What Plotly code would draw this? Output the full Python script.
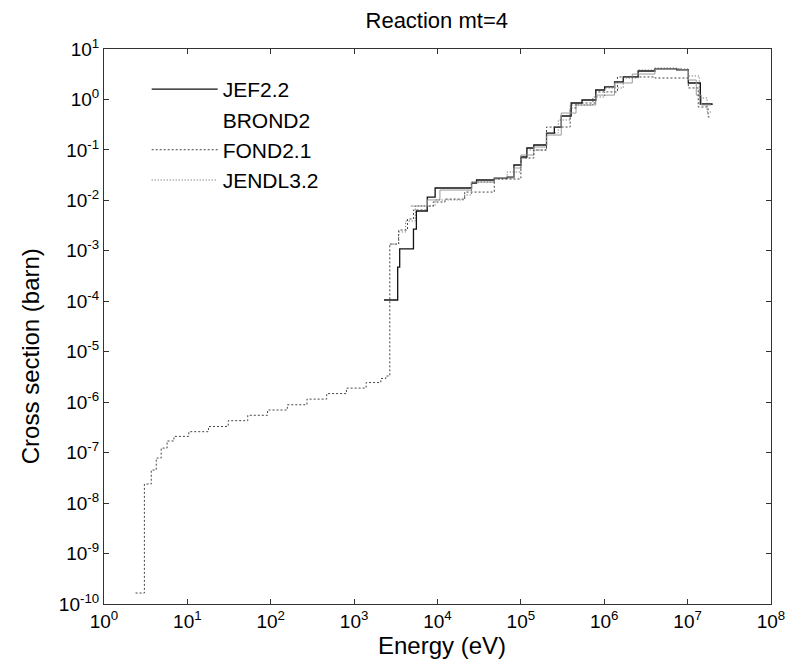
import plotly.graph_objects as go

# ---------------- data ----------------
jef_e = [2.28e3, 3.33e3, 3.52e3, 5.15e3, 5.58e3, 7.54e3, 9.37e3, 2.56e4, 2.94e4, 4.80e4,
         6.84e4, 8.26e4, 1.0e5, 1.18e5, 1.43e5, 2.03e5, 2.52e5, 3.05e5, 4.01e5, 5.41e5,
         7.91e5, 1.01e6, 1.33e6, 1.69e6, 2.55e6, 4.05e6, 7.38e6, 1.02e7, 1.42e7, 1.96e7]
jef_s = [1.06e-4, 4.77e-4, 1.09e-3, 2.70e-3, 6.15e-3, 1.16e-2, 1.76e-2, 2.21e-2, 2.53e-2, 2.77e-2,
         2.90e-2, 5.02e-2, 7.23e-2, 0.109, 0.125, 0.216, 0.284, 0.470, 0.851, 0.976,
         1.54, 1.77, 2.22, 2.79, 3.66, 4.02, 3.84, 2.12, 0.813, 0.776]

brond_e = [4.74e3, 7.54e3, 1.07e4, 2.56e4, 4.80e4, 8.26e4, 1.0e5, 1.43e5, 2.03e5, 3.05e5,
           4.59e5, 7.91e5, 1.33e6, 2.17e6, 4.05e6, 8.45e6, 1.02e7, 1.27e7, 1.46e7, 1.91e7]
brond_s = [7.73e-3, 1.02e-2, 1.60e-2, 2.31e-2, 2.77e-2, 4.38e-2, 7.92e-2, 0.114, 0.197, 0.538,
           0.776, 1.22, 2.12, 3.19, 4.02, 3.84, 2.43, 1.22, 0.776, 0.776]

fond_e = [2.39, 3.05, 3.69, 4.23, 4.85, 5.71, 6.9, 10.4, 17.9, 30.9, 53, 91.6, 158, 272,
          469, 809, 1394, 2090, 2.40e3, 2.68e3, 3.42e3, 4.37e3, 5.15e3, 7.54e3, 8.9e3,
          1.23e4, 2.12e4, 4.80e4, 1.0e5, 1.43e5, 2.03e5, 3.90e5, 4.59e5, 7.91e5, 1.44e6,
          4.05e6, 1.02e7, 1.34e7, 1.76e7, 1.91e7]
fond_s = [1.65e-10, 2.39e-8, 4.52e-8, 7.8e-8, 1.23e-7, 1.70e-7, 2.1e-7, 2.6e-7, 3.3e-7, 4.3e-7,
          5.5e-7, 7.0e-7, 8.9e-7, 1.15e-6, 1.48e-6, 1.9e-6, 2.45e-6, 2.95e-6, 3.3e-6, 1.36e-3,
          2.58e-3, 4.27e-3, 6.44e-3, 7.73e-3, 9.27e-3, 1.06e-2, 1.46e-2, 2.65e-2, 6.9e-2, 9.96e-2,
          0.284, 0.678, 0.851, 1.41, 2.79, 2.66, 1.69, 0.708, 0.449, 0.449]

jendl_e = [2.68e3, 3.42e3, 4.14e3, 5.43e3, 9.37e3, 2.12e4, 2.56e4, 4.80e4, 6.84e4, 1.0e5,
           1.18e5, 2.03e5, 2.81e5, 3.90e5, 7.30e5, 1.01e6, 1.69e6, 2.55e6, 4.05e6, 7.38e6,
           1.02e7, 1.38e7, 1.71e7, 1.96e7]
jendl_s = [1.36e-3, 2.36e-3, 3.90e-3, 7.73e-3, 1.02e-2, 1.28e-2, 2.31e-2, 2.65e-2, 3.65e-2, 6.9e-2,
           9.96e-2, 0.216, 0.392, 0.776, 1.12, 1.69, 2.66, 3.84, 4.20, 4.02,
           2.92, 1.07, 0.564, 0.564]

x_tickvals = [1e0, 1e1, 1e2, 1e3, 1e4, 1e5, 1e6, 1e7, 1e8]
x_ticktext = ["10<sup>%d</sup>" % k for k in range(0, 9)]
y_tickvals = [10.0 ** k for k in range(-10, 2)]
y_ticktext = ["10<sup>%d</sup>" % k for k in range(-10, 2)]

FONT = "Liberation Sans, Arial, Helvetica, sans-serif"

fig = go.Figure()
fig.add_trace(go.Scatter(x=jef_e, y=jef_s, mode="lines", name="JEF2.2",
                         line=dict(color="#111111", width=1.3, shape="hv")))
# BROND2: legend entry shows no sample line in the reference
fig.add_trace(go.Scatter(x=[None], y=[None], mode="lines", name="BROND2",
                         legendgroup="brond", line=dict(color="rgba(0,0,0,0)", width=1)))
fig.add_trace(go.Scatter(x=brond_e, y=brond_s, mode="lines", name="BROND2",
                         legendgroup="brond", showlegend=False,
                         line=dict(color="#9a9a9a", width=1, shape="hv")))
fig.add_trace(go.Scatter(x=fond_e, y=fond_s, mode="lines", name="FOND2.1",
                         line=dict(color="#444444", width=1, dash="2px,2px", shape="hv")))
fig.add_trace(go.Scatter(x=jendl_e, y=jendl_s, mode="lines", name="JENDL3.2",
                         line=dict(color="#555555", width=1, dash="1px,2px", shape="hv")))

axis_common = dict(type="log", showgrid=False, zeroline=False, showline=True,
                   linecolor="#333333", linewidth=1, mirror="ticks", ticks="inside",
                   ticklen=5, tickcolor="#333333", tickfont=dict(family=FONT, size=19, color="#000"))

fig.update_xaxes(range=[0, 8], tickvals=x_tickvals, ticktext=x_ticktext, **axis_common)
fig.update_yaxes(range=[-10, 1], tickvals=y_tickvals, ticktext=y_ticktext, **axis_common)

fig.update_layout(
    width=797, height=666,
    margin=dict(l=104, r=16, t=49, b=62),
    paper_bgcolor="white", plot_bgcolor="white",
    title=dict(text="Reaction mt=4", x=0.548, xanchor="center", y=0.969, yanchor="middle",
               font=dict(family=FONT, size=22, color="#000")),
    legend=dict(x=0.064, y=0.964, xanchor="left", yanchor="top", bgcolor="rgba(0,0,0,0)",
                font=dict(family=FONT, size=21, color="#000"), itemwidth=66,
                tracegroupgap=0),
    showlegend=True,
    annotations=[
        dict(text="Cross section (barn)", xref="paper", yref="paper",
             x=-0.109, y=0.447, xanchor="center", yanchor="middle",
             textangle=-90, showarrow=False,
             font=dict(family=FONT, size=24, color="#000")),
        dict(text="Energy (eV)", xref="paper", yref="paper",
             x=0.507, y=-0.075, xanchor="center", yanchor="middle",
             showarrow=False, font=dict(family=FONT, size=24, color="#000")),
    ],
)

fig.write_html("out.html")
